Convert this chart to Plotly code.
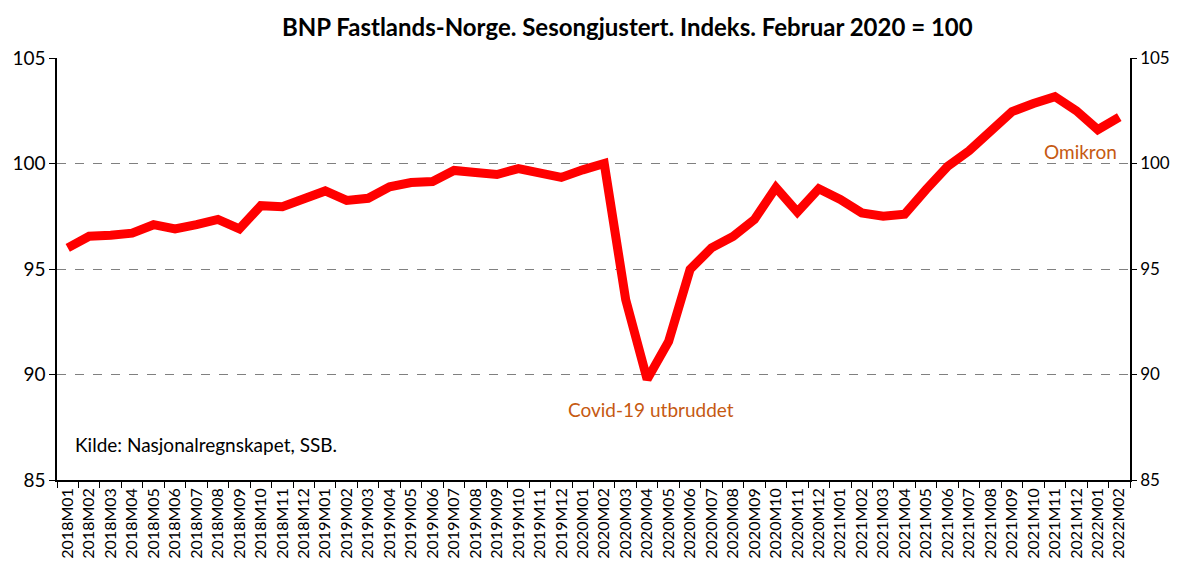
import plotly.graph_objects as go

months = [f"{y}M{m:02d}" for y in range(2018, 2023) for m in range(1, 13)][:50]
values = [96.0, 96.55, 96.6, 96.7, 97.1, 96.9, 97.1, 97.35, 96.9, 98.0,
          97.95, 98.35, 98.7, 98.25, 98.35, 98.9, 99.1, 99.15, 99.67, 99.57,
          99.48, 99.76, 99.6, 99.34, 99.7, 100.0, 93.55, 89.77, 91.56, 94.98,
          96.0, 96.54, 97.35, 98.86, 97.7, 98.8, 98.3, 97.66, 97.5, 97.6,
          98.77, 99.86, 100.6, 101.47, 102.46, 102.84, 103.17, 102.5, 101.6, 102.2]
y_ticks = [85, 90, 95, 100, 105]

FONT = "Lato"
fig = go.Figure()
fig.add_trace(go.Scatter(x=months, y=values, mode="lines",
                         line=dict(color="#FF0000", width=9), showlegend=False,
                         hoverinfo="x+y"))
fig.add_trace(go.Scatter(x=months, y=values, mode="lines", yaxis="y2",
                         line=dict(color="rgba(0,0,0,0)", width=0), showlegend=False,
                         hoverinfo="skip"))

fig.update_layout(
    width=1162, height=552,
    margin=dict(l=49, r=40, t=50, b=80, autoexpand=False),
    plot_bgcolor="white", paper_bgcolor="white",
    font=dict(family=FONT, color="black"),
    title=dict(text="<b>BNP Fastlands-Norge. Sesongjustert. Indeks. Februar 2020 = 100</b>",
               x=0.533, xanchor="center", y=0.964, yanchor="middle",
               font=dict(size=24, family=FONT, color="black")),
    xaxis=dict(type="category", tickangle=-90, tickfont=dict(size=16, family=FONT),
               showgrid=False, showline=True, linecolor="black", linewidth=1.5,
               ticks="outside", ticklen=6, tickcolor="black", tickson="boundaries",
               range=[-0.5, 49.5], automargin=False),
    yaxis=dict(range=[85, 105], tickvals=y_ticks, tickfont=dict(size=19, family=FONT),
               showgrid=True, gridcolor="#808080", griddash="dash", gridwidth=1.2,
               zeroline=False, showline=True, linecolor="black", linewidth=1.5,
               ticks="outside", ticklen=6, tickcolor="black", automargin=False),
    yaxis2=dict(range=[85, 105], tickvals=y_ticks, tickfont=dict(size=17, family=FONT),
                overlaying="y", side="right", showgrid=False, zeroline=False,
                showline=True, linecolor="black", linewidth=1.5,
                ticks="outside", ticklen=5, tickcolor="black", automargin=False),
    annotations=[
        dict(text="Covid-19 utbruddet", x="2020M04", y=88.34, xref="x", yref="y",
             xshift=4, showarrow=False, font=dict(size=19, color="#C65911", family=FONT)),
        dict(text="Omikron", x="2021M12", y=100.57, xref="x", yref="y",
             xshift=4, showarrow=False, font=dict(size=19, color="#C65911", family=FONT)),
        dict(text="Kilde: Nasjonalregnskapet, SSB.", x=0.015, y=86.68, xref="paper", yref="y",
             xanchor="left", showarrow=False, font=dict(size=19, color="black", family=FONT)),
    ],
)

fig.write_html("out.html")
